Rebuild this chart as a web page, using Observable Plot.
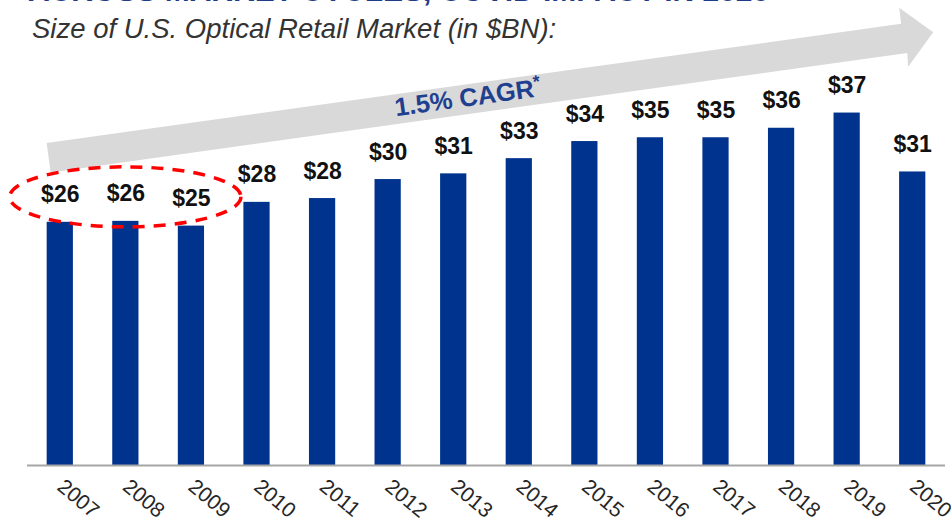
<!DOCTYPE html>
<html>
<head>
<meta charset="utf-8">
<script src="https://cdn.jsdelivr.net/npm/d3@7"></script>
<script src="https://cdn.jsdelivr.net/npm/@observablehq/plot@0.6"></script>
<style>
  html, body { margin: 0; padding: 0; background: #fff; }
  #wrap { position: relative; width: 951px; height: 529px; overflow: hidden; }
  #title { position: absolute; left: 28px; top: -24px; font: bold 30px/1 "Liberation Sans", Arial, sans-serif; color: #1F3C88; white-space: nowrap; letter-spacing: 0px; }
  #subtitle { position: absolute; left: 32px; top: 15px; font: italic 27.5px/1 "Liberation Sans", Arial, sans-serif; color: #333; white-space: nowrap; }
  #chart { position: absolute; left: 0; top: 0; }
</style>
</head>
<body>
<div id="wrap">
  <div id="chart"></div>
  <div id="title">ACROSS MARKET CYCLES, COVID IMPACT IN 2020</div>
  <div id="subtitle">Size of U.S. Optical Retail Market (in $BN):</div>
</div>
<script>
const years = ["2007","2008","2009","2010","2011","2012","2013","2014","2015","2016","2017","2018","2019","2020"];
const values = [25.6, 25.7, 25.2, 27.7, 28.1, 30.1, 30.7, 32.3, 34.1, 34.5, 34.5, 35.5, 37.1, 30.9];
const labels = ["$26","$26","$25","$28","$28","$30","$31","$33","$34","$35","$35","$36","$37","$31"];
const cagrLabel = "1.5% CAGR";
const cagrNote = "*";
const highlighted = ["2007","2008","2009"];

const data = years.map((yr, i) => ({year: yr, value: values[i], label: labels[i]}));

const W = 951, H = 529;
const plot = Plot.plot({
  width: W,
  height: H,
  marginLeft: 27,
  marginRight: 6,
  marginTop: 85,
  marginBottom: 64,
  style: {background: "transparent", overflow: "visible"},
  x: {domain: years, paddingInner: 0.6, paddingOuter: 0.3, round: false, label: null},
  y: {domain: [0, 40], axis: null},
  marks: [
    Plot.barY(data, {x: "year", y: "value", fill: "#00338D"}),
    Plot.ruleY([0], {stroke: "#A6A6A6", strokeWidth: 2}),
    Plot.text(data, {x: "year", y: "value", text: "label", dy: -20, lineAnchor: "bottom",
      fontFamily: "'Liberation Sans', Arial, sans-serif",
      fontWeight: "bold", fontSize: 23, fill: "#111"}),
    Plot.axisX({tickRotate: 40, tickSize: 0, tickPadding: 18, fontSize: 21,
      fontFamily: "'Liberation Sans', Arial, sans-serif",
      fill: "#262626", label: null})
  ]
});
document.getElementById("chart").appendChild(plot);

// Annotations derived from the plot's scales
const xs = plot.scale("x"), ys = plot.scale("y");
const bw = xs.bandwidth;
const svg = d3.select(plot);
const ann = svg.insert("g", ":first-child");

// Gray CAGR arrow: starts at the left edge of the first bar
const x0 = xs.apply(years[0]);
const xEnd = xs.apply(years[years.length - 1]) + bw * 1.3;
const yTop0 = ys.apply(33.9), yBot0 = ys.apply(30.8);
const slope = -0.1395;
const headBase = xEnd - 32;
const topAt = x => yTop0 + slope * (x - x0);
const botAt = x => yBot0 + slope * (x - x0 - 4);
const pts = [
  [x0, yTop0],
  [headBase, topAt(headBase)],
  [headBase - 2, topAt(headBase) - 16],
  [xEnd, topAt(xEnd) + 13],
  [headBase + 7, botAt(headBase + 7) + 14],
  [headBase + 6, botAt(headBase + 6)],
  [x0 + 4, yBot0]
];
ann.append("polygon")
  .attr("points", pts.map(p => p.join(",")).join(" "))
  .attr("fill", "#D9D9D9");

// CAGR label along the arrow
const angle = Math.atan(slope) * 180 / Math.PI;
const cx = xs.apply("2013") + bw * 1.1;
const cy = topAt(cx) + 22;
const t = svg.append("text")
  .attr("transform", `translate(${cx},${cy}) rotate(${angle})`)
  .attr("text-anchor", "middle")
  .attr("font-family", "'Liberation Sans', Arial, sans-serif")
  .attr("font-weight", "bold")
  .attr("font-size", 25.5)
  .attr("fill", "#1F3F8F");
t.append("tspan").text(cagrLabel);
t.append("tspan").attr("dy", -9).attr("font-size", 18).text(cagrNote);

// Red dashed ellipse around the highlighted years' labels
const hx0 = xs.apply(highlighted[0]) + bw / 2;
const hx1 = xs.apply(highlighted[highlighted.length - 1]) + bw / 2;
const hv = d3.max(data.filter(d => highlighted.includes(d.year)), d => d.value);
svg.append("ellipse")
  .attr("cx", (hx0 + hx1) / 2)
  .attr("cy", ys.apply(hv) - 24)
  .attr("rx", (hx1 - hx0) / 2 + 50)
  .attr("ry", 30)
  .attr("fill", "none")
  .attr("stroke", "#FF0000")
  .attr("stroke-width", 3.5)
  .attr("stroke-dasharray", "12 9");
</script>
</body>
</html>
